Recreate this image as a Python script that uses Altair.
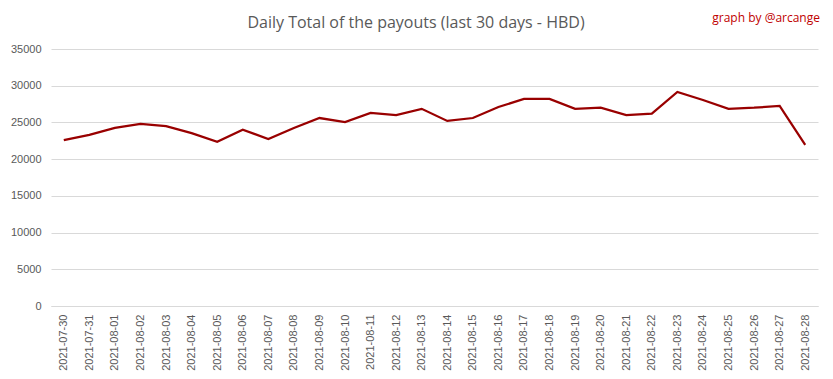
import altair as alt
import pandas as pd

dates = [
    "2021-07-30", "2021-07-31", "2021-08-01", "2021-08-02", "2021-08-03",
    "2021-08-04", "2021-08-05", "2021-08-06", "2021-08-07", "2021-08-08",
    "2021-08-09", "2021-08-10", "2021-08-11", "2021-08-12", "2021-08-13",
    "2021-08-14", "2021-08-15", "2021-08-16", "2021-08-17", "2021-08-18",
    "2021-08-19", "2021-08-20", "2021-08-21", "2021-08-22", "2021-08-23",
    "2021-08-24", "2021-08-25", "2021-08-26", "2021-08-27", "2021-08-28",
]
payouts = [
    22600, 23300, 24250, 24800, 24500,
    23550, 22350, 24000, 22750, 24250,
    25600, 25050, 26300, 26000, 26850,
    25200, 25600, 27100, 28200, 28200,
    26850, 27000, 26000, 26200, 29150,
    28050, 26850, 27000, 27250, 21950,
]
y_ticks = [0, 5000, 10000, 15000, 20000, 25000, 30000, 35000]

df = pd.DataFrame({"date": dates, "hbd": payouts})

W, H = 767, 257
label_color = "#595959"
axis_font = "Liberation Sans"
title_font = "Open Sans"

base = alt.Chart(df)

line = base.mark_line(color="#990000", strokeWidth=2.25).encode(
    x=alt.X(
        "date:O",
        sort=None,
        scale=alt.Scale(type="point", padding=0.5),
        axis=alt.Axis(
            title=None,
            labelAngle=-90,
            labelColor=label_color,
            labelFontSize=11,
            labelFont=axis_font,
            ticks=False,
            labelPadding=8,
            domainColor="#d9d9d9",
            grid=False,
        ),
    ),
    y=alt.Y(
        "hbd:Q",
        scale=alt.Scale(domain=[0, 35000], nice=False),
        axis=alt.Axis(
            title=None,
            values=y_ticks,
            format="d",
            labelColor=label_color,
            labelFontSize=11,
            labelFont=axis_font,
            ticks=False,
            domain=False,
            labelPadding=10,
            gridColor="#d9d9d9",
        ),
    ),
)

title = alt.Chart(pd.DataFrame({"t": ["Daily Total of the payouts (last 30 days - HBD)"]})).mark_text(
    fontSize=16, font=title_font, color="#595959", align="center", baseline="alphabetic"
).encode(text="t:N", x=alt.value(365), y=alt.value(-21))

credit = alt.Chart(pd.DataFrame({"t": ["graph by @arcange"]})).mark_text(
    fontSize=12, font=title_font, color="#c00000", align="right", baseline="alphabetic"
).encode(text="t:N", x=alt.value(769), y=alt.value(-27))

chart = alt.layer(line, title, credit).properties(
    width=W,
    height=H,
    autosize=alt.AutoSizeParams(type="none"),
    padding={"left": 43, "top": 41, "right": 7, "bottom": 65},
).configure_view(stroke=None)

chart.save("out.html", embed_options={"renderer": "svg", "actions": False})
